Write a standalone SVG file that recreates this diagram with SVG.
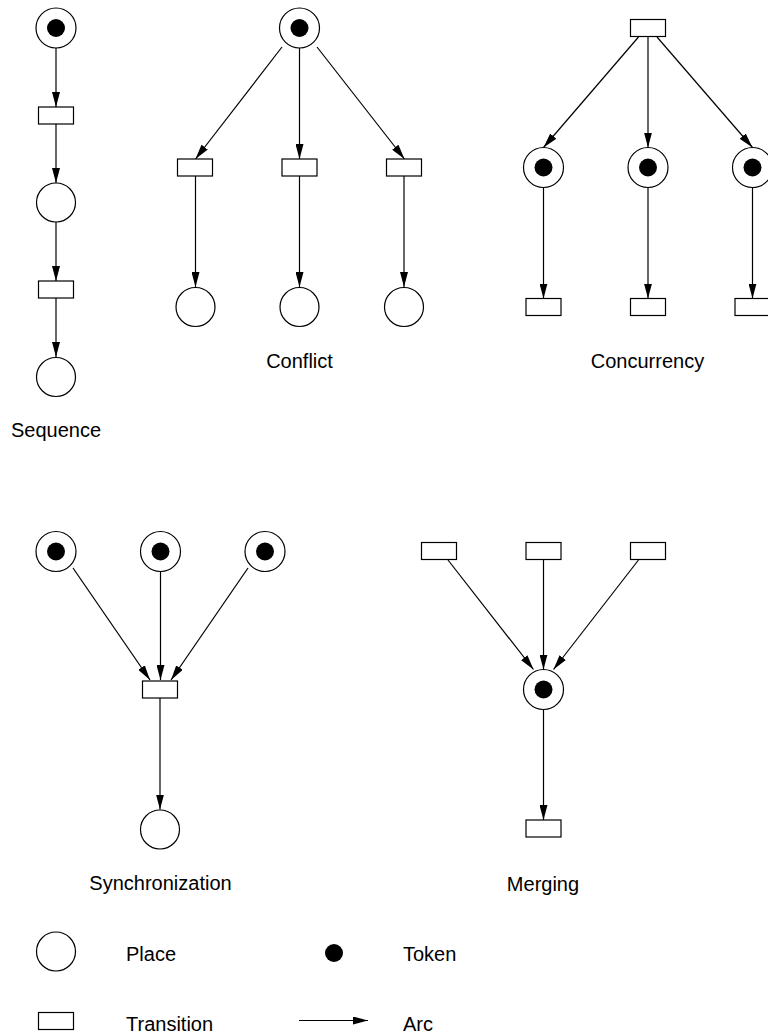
<svg xmlns="http://www.w3.org/2000/svg" width="768" height="1036" viewBox="0 0 768 1036">
<style>
.pl{fill:#fff;stroke:#000;stroke-width:1.2}
.tk{fill:#000}
.tr{fill:#fff;stroke:#000;stroke-width:1.2}
.arc{stroke:#000;stroke-width:1.2;fill:none;marker-end:url(#arr)}
.lb{font-family:"Liberation Sans",Arial,sans-serif;font-size:20px;fill:#000}
.c{text-anchor:middle}
</style>
<defs>
<marker id="arr" markerWidth="15" markerHeight="8" refX="15" refY="4" orient="auto" markerUnits="userSpaceOnUse">
<path d="M0,0 L15,4 L0,8 z" fill="#000"/>
</marker>
</defs>
<rect width="768" height="1036" fill="#fff"/>

<g id="connectors">
<!-- sequence -->
<line class="arc" x1="56" y1="48" x2="56" y2="107"/>
<line class="arc" x1="56" y1="124" x2="56" y2="183"/>
<line class="arc" x1="56" y1="222" x2="56" y2="281"/>
<line class="arc" x1="56" y1="298" x2="56" y2="357"/>
<!-- conflict -->
<line class="arc" x1="282" y1="47" x2="195.5" y2="159"/>
<line class="arc" x1="299.5" y1="48" x2="299.5" y2="159"/>
<line class="arc" x1="317" y1="47" x2="404.5" y2="159"/>
<line class="arc" x1="195.5" y1="176" x2="195.5" y2="287"/>
<line class="arc" x1="299.5" y1="176" x2="299.5" y2="287"/>
<line class="arc" x1="404" y1="176" x2="404" y2="287"/>
<!-- concurrency -->
<line class="arc" x1="638.5" y1="37" x2="543.5" y2="147.5"/>
<line class="arc" x1="648" y1="37" x2="648" y2="147.5"/>
<line class="arc" x1="657" y1="37" x2="752.5" y2="147.5"/>
<line class="arc" x1="543.5" y1="187.5" x2="543.5" y2="298.5"/>
<line class="arc" x1="648" y1="187.5" x2="648" y2="298.5"/>
<line class="arc" x1="752.5" y1="187.5" x2="752.5" y2="298.5"/>
<!-- synchronization -->
<line class="arc" x1="73" y1="568" x2="150" y2="680"/>
<line class="arc" x1="160.5" y1="571.5" x2="160.5" y2="680"/>
<line class="arc" x1="248" y1="568" x2="171" y2="680"/>
<line class="arc" x1="160" y1="698" x2="160" y2="809.5"/>
<!-- merging -->
<line class="arc" x1="448" y1="560" x2="533.5" y2="669.5"/>
<line class="arc" x1="543.5" y1="559.5" x2="543.5" y2="669.5"/>
<line class="arc" x1="638.5" y1="560" x2="553.5" y2="669.5"/>
<line class="arc" x1="543.5" y1="709.5" x2="543.5" y2="820"/>
<!-- legend arc -->
<line class="arc" x1="299" y1="1020.5" x2="368" y2="1020.5"/>
</g>

<g id="sequence">
<g id="seq-p1"><circle class="pl" cx="56" cy="28" r="20"/><circle class="tk" cx="56" cy="28" r="9"/></g>
<rect id="seq-t1" class="tr" x="38.5" y="107" width="35" height="17"/>
<circle id="seq-p2" class="pl" cx="56" cy="202.5" r="19.5"/>
<rect id="seq-t2" class="tr" x="38.5" y="281" width="35" height="17"/>
<circle id="seq-p3" class="pl" cx="56" cy="377" r="19.5"/>
<text class="lb c" x="56" y="437">Sequence</text>
</g>

<g id="conflict">
<g id="con-p"><circle class="pl" cx="299.5" cy="28" r="20"/><circle class="tk" cx="299.5" cy="28" r="9"/></g>
<rect id="con-t1" class="tr" x="177.5" y="159" width="35" height="17"/>
<rect id="con-t2" class="tr" x="282" y="159" width="35" height="17"/>
<rect id="con-t3" class="tr" x="386.5" y="159" width="35" height="17"/>
<circle id="con-p1" class="pl" cx="195.5" cy="307" r="19.5"/>
<circle id="con-p2" class="pl" cx="299.5" cy="307" r="19.5"/>
<circle id="con-p3" class="pl" cx="404" cy="307" r="19.5"/>
<text class="lb c" x="299.5" y="367.5">Conflict</text>
</g>

<g id="concurrency">
<rect id="cc-t" class="tr" x="630.5" y="19.5" width="35" height="17"/>
<g id="cc-p1"><circle class="pl" cx="543.5" cy="167.5" r="20"/><circle class="tk" cx="543.5" cy="167.5" r="9"/></g>
<g id="cc-p2"><circle class="pl" cx="648" cy="167.5" r="20"/><circle class="tk" cx="648" cy="167.5" r="9"/></g>
<g id="cc-p3"><circle class="pl" cx="752.5" cy="167.5" r="20"/><circle class="tk" cx="752.5" cy="167.5" r="9"/></g>
<rect id="cc-t1" class="tr" x="526" y="298.5" width="35" height="17"/>
<rect id="cc-t2" class="tr" x="630.5" y="298.5" width="35" height="17"/>
<rect id="cc-t3" class="tr" x="735" y="298.5" width="35" height="17"/>
<text class="lb c" x="647.5" y="368">Concurrency</text>
</g>

<g id="synchronization">
<g id="sy-p1"><circle class="pl" cx="56" cy="551.5" r="20"/><circle class="tk" cx="56" cy="551.5" r="9"/></g>
<g id="sy-p2"><circle class="pl" cx="160.5" cy="551.5" r="20"/><circle class="tk" cx="160.5" cy="551.5" r="9"/></g>
<g id="sy-p3"><circle class="pl" cx="265" cy="551.5" r="20"/><circle class="tk" cx="265" cy="551.5" r="9"/></g>
<rect id="sy-t" class="tr" x="142.5" y="681" width="35" height="17"/>
<circle id="sy-p4" class="pl" cx="160" cy="829.5" r="19.5"/>
<text class="lb c" x="160.5" y="890">Synchronization</text>
</g>

<g id="merging">
<rect id="mg-t1" class="tr" x="421.5" y="542.5" width="35" height="17"/>
<rect id="mg-t2" class="tr" x="526" y="542.5" width="35" height="17"/>
<rect id="mg-t3" class="tr" x="630.5" y="542.5" width="35" height="17"/>
<g id="mg-p"><circle class="pl" cx="543.5" cy="689.5" r="20"/><circle class="tk" cx="543.5" cy="689.5" r="9"/></g>
<rect id="mg-t4" class="tr" x="526" y="820" width="35" height="17"/>
<text class="lb c" x="543" y="891">Merging</text>
</g>

<g id="legend">
<circle id="lg-place" class="pl" cx="56" cy="951.5" r="19.5"/>
<text class="lb" x="126" y="960.5">Place</text>
<circle id="lg-token" class="tk" cx="334" cy="953" r="9"/>
<text class="lb" x="403" y="960.5">Token</text>
<rect id="lg-trans" class="tr" x="38.5" y="1012.5" width="35" height="17"/>
<text class="lb" x="126" y="1030.5">Transition</text>
<text class="lb" x="403" y="1030.5">Arc</text>
</g>
</svg>
